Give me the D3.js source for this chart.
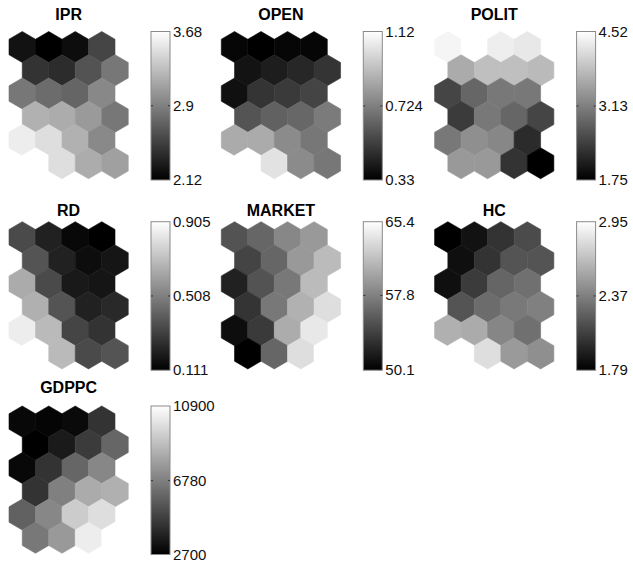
<!DOCTYPE html>
<html><head><meta charset="utf-8">
<script src="https://cdn.jsdelivr.net/npm/d3@7"></script>
<style>body{margin:0;background:#fff}svg{display:block}</style>
</head><body>
<svg id="c" width="633" height="565"></svg>
<script>
// ---- data (6 rows x 4 columns of SOM codebook values per component) ----
const names = ["IPR", "OPEN", "POLIT", "RD", "MARKET", "HC", "GDPPC"];
const IPR = [
  [2.23, 2.12, 2.20, 2.54],
  [2.43, 2.39, 2.63, 2.85],
  [2.85, 2.78, 2.74, 2.95],
  [3.20, 3.17, 3.06, 2.85],
  [3.57, 3.48, 3.20, 2.96],
  [3.68, 3.48, 3.17, 3.10]];
const OPEN = [
  [0.35, 0.33, 0.35, 0.35],
  [0.39, 0.42, 0.45, 0.49],
  [0.38, 0.49, 0.51, 0.54],
  [0.59, 0.63, 0.65, 0.71],
  [0.86, 0.86, 0.76, 0.70],
  [1.12, 1.03, 0.76, 0.70]];
const POLIT = [
  [4.41, 4.52, 4.33, 4.27],
  [3.61, 3.83, 3.83, 3.77],
  [2.50, 2.86, 3.05, 3.05],
  [2.39, 3.05, 2.86, 2.50],
  [3.05, 3.30, 3.22, 2.22],
  [3.41, 3.41, 2.30, 1.75]];
const RD = [
  [0.341, 0.214, 0.135, 0.111],
  [0.373, 0.214, 0.151, 0.175],
  [0.643, 0.341, 0.190, 0.175],
  [0.659, 0.373, 0.214, 0.238],
  [0.849, 0.691, 0.325, 0.270],
  [0.905, 0.691, 0.341, 0.373]];
const MARKET = [
  [55.1, 56.2, 58.2, 59.3],
  [54.2, 56.2, 59.3, 61.3],
  [52.1, 55.1, 57.3, 61.3],
  [53.2, 57.3, 60.7, 63.4],
  [50.9, 53.6, 60.4, 64.0],
  [50.1, 56.2, 63.4, 65.4]];
const HC = [
  [1.79, 1.87, 2.02, 2.13],
  [1.86, 2.02, 2.17, 2.17],
  [1.86, 2.06, 2.25, 2.30],
  [2.17, 2.28, 2.34, 2.37],
  [2.59, 2.57, 2.40, 2.30],
  [2.95, 2.80, 2.49, 2.44]];
const GDPPC = [
  [2950, 2860, 3030, 4340],
  [2700, 3520, 4590, 5980],
  [2950, 4340, 5980, 7050],
  [4340, 6800, 8190, 8360],
  [5820, 7050, 9260, 9830],
  [6550, 7620, 10330, 10900]];
const planes = [IPR, OPEN, POLIT, RD, MARKET, HC, GDPPC];
const mins = [2.12, 0.33, 1.75, 0.111, 50.1, 1.79, 2700];
const maxs = [3.68, 1.12, 4.52, 0.905, 65.4, 2.95, 10900];
const tickValues = [
  [2.12, 2.9, 3.68], [0.33, 0.724, 1.12], [1.75, 3.13, 4.52],
  [0.111, 0.508, 0.905], [50.1, 57.8, 65.4], [1.79, 2.37, 2.95],
  [2700, 6780, 10900]];
const tickLabels = [
  ["2.12", "2.9", "3.68"], ["0.33", "0.724", "1.12"], ["1.75", "3.13", "4.52"],
  ["0.111", "0.508", "0.905"], ["50.1", "57.8", "65.4"], ["1.79", "2.37", "2.95"],
  ["2700", "6780", "10900"]];

// ---- layout ----
const svg = d3.select("#c");
const W = 26.5, R = 15.5, VS = 1.5 * R;
const gridLeft = [9, 221.3, 434.6];
const cbLeft = [151, 363.3, 576.6];
const rowTop = [31.5, 221.7, 406];
const titleBase = [20, 216, 393];
const cbW = 19, cbH = 148.5;
const font = "'Liberation Sans', Arial, Helvetica, sans-serif";

const defs = svg.append("defs");
const grad = defs.append("linearGradient").attr("id", "gray")
  .attr("x1", 0).attr("y1", 1).attr("x2", 0).attr("y2", 0);
grad.append("stop").attr("offset", 0).attr("stop-color", "#000");
grad.append("stop").attr("offset", 1).attr("stop-color", "#fff");

const hexPts = [[0, -R], [W / 2, -R / 2], [W / 2, R / 2], [0, R], [-W / 2, R / 2], [-W / 2, -R / 2]];
const hexPath = "M" + hexPts.map(p => p.join(",")).join("L") + "Z";

planes.forEach((plane, i) => {
  const pc = i % 3, pr = Math.floor(i / 3);
  const gx = gridLeft[pc], gy = rowTop[pr];
  const g = svg.append("g");
  const color = d3.scaleLinear().domain([mins[i], maxs[i]]).range(["#000", "#fff"]).clamp(true);
  const x = d3.scaleLinear().domain([0, 1]).range([gx + W / 2, gx + W / 2 + W]);
  const y = d3.scaleLinear().domain([0, 1]).range([gy + R, gy + R + VS]);
  const cells = [];
  plane.forEach((row, r) => row.forEach((v, c) => cells.push({ r, c, v })));
  g.selectAll("path.hex").data(cells).join("path")
    .attr("class", "hex")
    .attr("d", hexPath)
    .attr("transform", d => `translate(${x(d.c + (d.r % 2) * 0.5)},${y(d.r)})`)
    .attr("fill", d => color(d.v))
    .attr("stroke", d => color(d.v))
    .attr("stroke-width", 0.6);

  // title
  svg.append("text")
    .attr("x", gx + W * 2.25).attr("y", titleBase[pr])
    .attr("text-anchor", "middle")
    .attr("font-family", font).attr("font-weight", "bold").attr("font-size", 16)
    .text(names[i]);

  // colorbar
  const cx = cbLeft[pc];
  const cs = d3.scaleLinear().domain([mins[i], maxs[i]]).range([gy + cbH, gy]);
  svg.append("rect").attr("x", cx).attr("y", gy).attr("width", cbW).attr("height", cbH)
    .attr("fill", "url(#gray)").attr("stroke", "#8a8a8a").attr("stroke-width", 1);
  tickValues[i].forEach((t, k) => {
    const ty = cs(t);
    if (k === 1) {
      svg.append("line").attr("x1", cx).attr("x2", cx + 2).attr("y1", ty).attr("y2", ty)
        .attr("stroke", "#333").attr("stroke-width", 1);
      svg.append("line").attr("x1", cx + cbW - 2).attr("x2", cx + cbW).attr("y1", ty).attr("y2", ty)
        .attr("stroke", "#333").attr("stroke-width", 1);
    }
    svg.append("text")
      .attr("x", cx + cbW + 3).attr("y", ty + 5)
      .attr("font-family", font).attr("font-size", 15).attr("fill", "#111")
      .text(tickLabels[i][k]);
  });
});
</script>
</body></html>
